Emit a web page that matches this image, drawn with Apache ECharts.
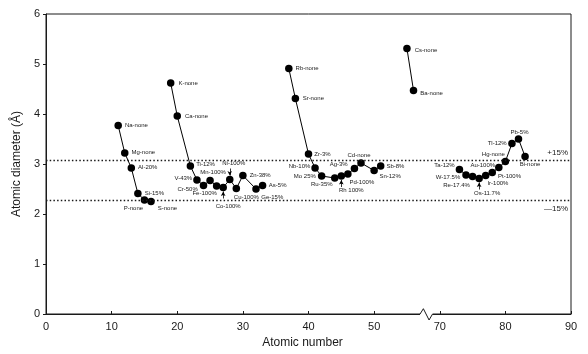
<!DOCTYPE html>
<html>
<head>
<meta charset="utf-8">
<title>Atomic diameter vs atomic number</title>
<script src="https://cdn.jsdelivr.net/npm/echarts@6/dist/echarts.min.js"></script>
<style>
  html, body { margin: 0; padding: 0; background: #fff; }
  #chart { width: 588px; height: 354px; }
</style>
</head>
<body>
<div id="chart"></div>
<script>
// elements
const elements = ["Na", "Mg", "Al", "Si", "P", "S",
  "K", "Ca", "Ti", "V", "Cr", "Mn", "Fe", "Co", "Ni", "Cu", "Zn", "Ge", "As",
  "Rb", "Sr", "Zr", "Nb", "Mo", "Ru", "Rh", "Pd", "Ag", "Cd", "Sn", "Sb",
  "Cs", "Ba",
  "Ta", "W", "Re", "Os", "Ir", "Pt", "Au", "Hg", "Tl", "Pb", "Bi"];
const atomicNumber = [11, 12, 13, 14, 15, 16,
  19, 20, 22, 23, 24, 25, 26, 27, 28, 29, 30, 32, 33,
  37, 38, 40, 41, 42, 44, 45, 46, 47, 48, 50, 51,
  55, 56,
  73, 74, 75, 76, 77, 78, 79, 80, 81, 82, 83];
const diameter = [3.77, 3.22, 2.92, 2.41, 2.28, 2.25,
  4.62, 3.96, 2.96, 2.68, 2.57, 2.67, 2.56, 2.53, 2.69, 2.51, 2.77, 2.50, 2.57,
  4.91, 4.31, 3.20, 2.92, 2.76, 2.72, 2.76, 2.80, 2.91, 3.02, 2.87, 2.96,
  5.31, 4.47,
  2.89, 2.78, 2.75, 2.71, 2.77, 2.83, 2.93, 3.05, 3.41, 3.50, 3.15];
// which connected run a point belongs to
const run = [1, 1, 1, 1, 1, 1,
  2, 2, 2, 2, 2, 2, 2, 2, 2, 2, 2, 2, 2,
  3, 3, 3, 3, 3, 3, 3, 3, 3, 3, 3, 3,
  4, 4,
  5, 5, 5, 5, 5, 5, 5, 5, 5, 5, 5];
const pointLabels = ["Na-none", "Mg-none", "Al-20%", "Si-15%", "P-none", "S-none",
  "K-none", "Ca-none", "Ti-12%", "V-43%", "Cr-50%", "Mn-100%", "Fe-100%", "Co-100%",
  "Ni-100%", "Cu-100%", "Zn-38%", "Ge-15%", "As-5%",
  "Rb-none", "Sr-none", "Zr-3%", "Nb-10%", "Mo 25%", "Ru-35%", "Rh 100%", "Pd-100%",
  "Ag-3%", "Cd-none", "Sn-12%", "Sb-8%",
  "Cs-none", "Ba-none",
  "Ta-12%", "W-17.5%", "Re-17.4%", "Os-11.7%", "Ir-100%", "Pt-100%", "Au-100%",
  "Hg-none", "Tl-12%", "Pb-5%", "Bi-none"];

// +/-15% band
const bandUpper = 3.08;
const bandLower = 2.28;
const bandLabels = ["+15%", "\u201415%"];

// x-axis is broken between 50 and 70: numbers above the break shift left by 10
const breakAt = 60;
const breakShift = 10;
const xTickLabels = [0, 10, 20, 30, 40, 50, 70, 80, 90];

// arrows pointing to crowded points: up = label is below
const arrowed = { Co: "up", Ni: "down", Rh: "up", Os: "up" };

// label placement: [position, dx, dy, distance]
const labelPlace = {
  Na: ["right", 0, 0, 3], Mg: ["right", 0, -1, 3], Al: ["right", 0, -1, 3],
  Si: ["right", 0, 0, 3], P: ["bottom", -11, 0, 1.5], S: ["right", 0, 7, 3],
  K: ["right", 0, 0, 4], Ca: ["right", 0, 0, 4], Ti: ["right", 0, -1.5, 2],
  V: ["left", 0, -2, 1], Cr: ["left", 0, 3.5, 2], Mn: ["top", 3, 0, 1],
  Fe: ["bottom", -12, 0, 1], Co: ["bottom", 5, 0, 12], Ni: ["top", 4, 0, 9],
  Cu: ["bottom", 10, 0, 2], Zn: ["right", 0, 0, 3], Ge: ["right", 0, 8, 1.5],
  As: ["right", 0, 0, 2.5],
  Rb: ["right", 0, 0, 3], Sr: ["right", 0, 0, 3.5], Zr: ["right", 0, 0, 2],
  Nb: ["left", 0, -2, 1], Mo: ["left", 0, 0, 2], Ru: ["bottom", -13, 0, 0],
  Rh: ["bottom", 10, 0, 8], Pd: ["bottom", 14, 0, 2], Ag: ["left", 0, -4, 3],
  Cd: ["top", -2, 0, 1], Sn: ["right", 0, 6, 1.5], Sb: ["right", 0, 0, 2],
  Cs: ["right", 0, 2, 4], Ba: ["right", 0, 3, 3],
  Ta: ["left", 0, -4, 1], W: ["left", 0, 2, 2], Re: ["bottom", -16, 0, 2],
  Os: ["bottom", 8, 0, 8], Ir: ["right", -2, 8, 0], Pt: ["right", 0, 4, 2],
  Au: ["left", 0, -2, 0], Hg: ["top", -12, 0, 0], Tl: ["left", 0, 0, 1.5],
  Pb: ["top", 1, 0, 0], Bi: ["bottom", 5, 0, 1]
};

const ink = "#1a1a1a";
const font = "'Liberation Sans', Arial, sans-serif";

function axisPos(n) {
  return n > breakAt ? n - breakShift : n;
}

const chart = echarts.init(document.getElementById("chart"));

const runs = [...new Set(run)];
const series = runs.map((r, k) => {
  const data = [];
  elements.forEach((el, i) => {
    if (run[i] !== r) return;
    const p = labelPlace[el];
    data.push({
      value: [axisPos(atomicNumber[i]), diameter[i]],
      label: {
        show: true,
        formatter: pointLabels[i],
        position: p[0],
        offset: [p[1], p[2]],
        distance: p[3]
      }
    });
  });
  return {
    type: "line",
    data: data,
    symbol: "circle",
    symbolSize: 7.5,
    itemStyle: { color: "#000" },
    lineStyle: { color: "#000", width: 1 },
    label: { fontSize: 6, color: ink, fontFamily: font },
    z: 3
  };
});

// dotted band and arrows as mark lines on the first run
const markData = [
  {
    yAxis: bandUpper,
    label: { show: true, position: "insideEndTop", formatter: bandLabels[0], distance: [3, 3] }
  },
  {
    yAxis: bandLower,
    label: { show: true, position: "insideEndBottom", formatter: bandLabels[1], distance: [3, 5] }
  }
];
Object.keys(arrowed).forEach(el => {
  const i = elements.indexOf(el);
  const x = axisPos(atomicNumber[i]);
  const y = diameter[i];
  const s = arrowed[el] === "up" ? -1 : 1;
  markData.push([
    { coord: [x, y + s * 0.22], symbol: "none" },
    { coord: [x, y + s * 0.08], symbol: "arrow", symbolSize: [3.5, 4.5],
      lineStyle: { type: "solid", width: 0.8, color: "#000" } }
  ]);
});
series[0].markLine = {
  silent: true,
  symbol: ["none", "none"],
  animation: false,
  lineStyle: { type: [1.5, 2.2], width: 1.3, color: ink },
  label: { show: false, fontSize: 8, color: ink, fontFamily: font },
  data: markData
};

chart.setOption({
  animation: false,
  textStyle: { fontFamily: font },
  grid: { left: 46, right: 17, top: 14, bottom: 40, show: true, borderColor: ink, borderWidth: 1 },
  xAxis: {
    type: "value",
    min: 0,
    max: 80,
    interval: 10,
    name: "Atomic number",
    nameLocation: "middle",
    nameGap: 21,
    nameTextStyle: { fontSize: 12, color: ink, padding: [0, 12, 0, 0] },
    axisLine: { lineStyle: { color: ink, width: 1 } },
    axisTick: { inside: true, length: 3, lineStyle: { color: ink } },
    axisLabel: {
      fontSize: 11,
      color: ink,
      margin: 7,
      formatter: v => String(xTickLabels[Math.round(v / 10)])
    },
    splitLine: { show: false }
  },
  yAxis: {
    type: "value",
    min: 0,
    max: 6,
    interval: 1,
    name: "Atomic diameter (\u00c5)",
    nameLocation: "middle",
    nameGap: 16,
    nameTextStyle: { fontSize: 12, color: ink },
    axisLine: { show: true, lineStyle: { color: ink, width: 1 } },
    axisTick: { show: true, length: 3, lineStyle: { color: ink } },
    axisLabel: { fontSize: 11, color: ink, margin: 6 },
    splitLine: { show: false }
  },
  series: series
});

// zigzag break mark on the x axis
const bx = chart.convertToPixel({ xAxisIndex: 0 }, 57);
const by = chart.convertToPixel({ yAxisIndex: 0 }, 0);
chart.setOption({
  graphic: [
    {
      type: "rect",
      shape: { x: bx, y: by - 2, width: 12.5, height: 4 },
      style: { fill: "#fff" },
      z: 100
    },
    {
      type: "polyline",
      shape: { points: [[bx, by], [bx + 3.3, by - 5.3], [bx + 9, by + 6], [bx + 12.5, by]] },
      style: { stroke: ink, lineWidth: 1, fill: null },
      z: 101
    }
  ]
});
</script>
</body>
</html>
